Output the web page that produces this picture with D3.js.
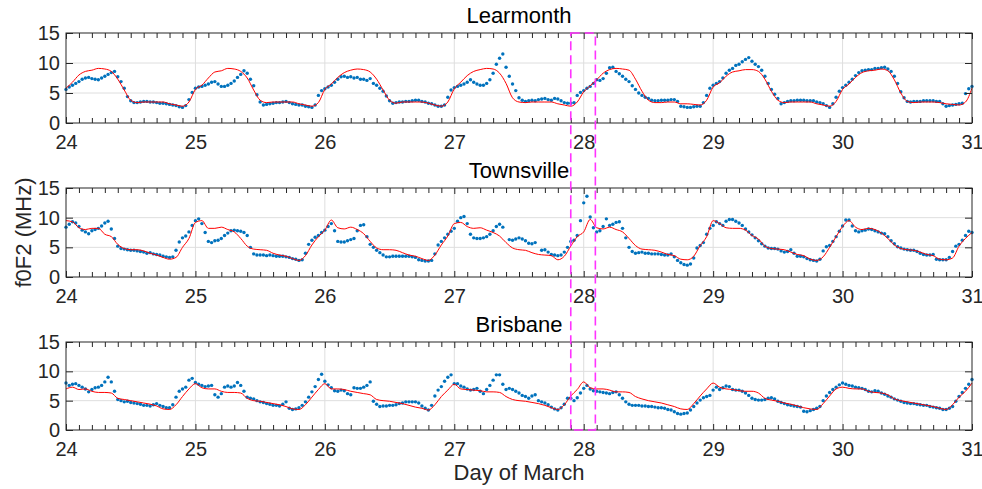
<!DOCTYPE html>
<html>
<head>
<meta charset="utf-8">
<script src="https://cdn.jsdelivr.net/npm/d3@7"></script>
<style>
  body { margin: 0; background: #fff; }
  svg { display: block; font-family: "Liberation Sans", Arial, sans-serif; }
</style>
</head>
<body>
<svg width="982" height="489"></svg>
<script>
// station names, axis ticks
const stations = ['Learmonth', 'Townsville', 'Brisbane'];
const dayTicks = [24, 25, 26, 27, 28, 29, 30, 31];
const yTicks = [0, 5, 10, 15];
const eventWindow = [27.9, 28.09];

// observed f0F2 (MHz), one value every 0.025 day from 24.0 to 31.0
const obsStep = 0.025;
const learmonthObs = [
  5.6,6.0,6.3,6.6,6.9,7.3,7.5,7.6,7.4,7.3, 7.2,7.5,7.8,8.1,8.4,8.6,7.7,6.9,5.8,4.4, 3.7,3.4,3.4,3.5,3.6,3.6,3.5,3.5,3.4,3.3, 3.3,3.2,3.1,3.0,2.9,2.7,2.6,2.9,3.9,5.1,
  5.8,6.0,6.1,6.3,6.5,6.8,6.9,6.5,6.1,6.1, 6.3,6.6,7.0,7.6,8.1,8.7,8.3,7.3,6.2,4.7, 3.5,3.0,3.1,3.2,3.3,3.4,3.4,3.5,3.6,3.4, 3.2,3.1,3.0,3.0,2.8,2.7,2.6,3.0,4.6,5.4,
  5.7,6.0,6.3,6.8,7.3,7.7,7.8,7.6,7.7,7.5, 7.6,7.3,7.3,7.1,7.4,6.6,6.3,5.8,5.3,4.5, 3.7,3.3,3.4,3.5,3.5,3.6,3.6,3.7,3.8,3.8, 3.6,3.5,3.3,3.2,3.0,2.8,2.8,3.0,4.3,5.5,
  5.9,6.1,6.3,6.5,6.8,7.2,6.8,6.5,6.3,6.3, 6.6,7.2,8.3,9.8,10.8,11.5,9.3,7.8,6.5,5.4, 4.2,3.8,3.6,3.7,3.8,3.7,3.9,4.0,4.1,3.9, 3.8,4.1,4.0,3.7,3.4,3.3,3.3,3.4,4.6,5.1,
  5.4,5.8,6.1,6.6,7.2,7.1,7.4,8.3,9.2,9.3, 8.6,8.2,7.8,7.3,6.9,6.2,5.6,5.0,4.6,4.3, 4.1,3.8,3.7,3.7,3.8,3.8,3.8,3.9,3.9,3.6, 2.8,2.7,2.6,2.6,2.7,2.8,2.8,3.4,4.6,5.8,
  6.3,6.6,6.9,7.5,8.3,8.8,9.1,9.6,9.8,10.2, 10.6,10.9,10.3,9.8,9.4,8.8,7.8,6.6,5.6,4.8, 4.1,3.2,3.4,3.6,3.7,3.7,3.8,3.8,3.8,3.7, 3.7,3.7,3.5,3.4,3.2,2.9,2.6,3.2,4.3,5.3,
  5.9,6.3,6.8,7.3,7.9,8.4,8.7,8.8,8.9,8.9, 9.1,9.1,9.2,9.3,9.0,8.6,7.8,6.6,5.2,4.2, 3.6,3.5,3.6,3.6,3.6,3.7,3.7,3.7,3.7,3.6, 3.6,3.2,2.8,2.9,3.0,3.1,3.2,3.3,4.9,5.7,
  6.1
];
const townsvilleObs = [
  8.4,8.9,9.3,9.1,8.5,7.9,7.6,7.3,7.8,8.0, 8.2,8.6,9.1,9.4,8.1,6.5,5.2,4.8,4.7,4.6, 4.5,4.5,4.4,4.3,4.2,4.0,4.1,3.9,3.8,3.7, 3.5,3.4,3.3,3.4,4.5,5.9,6.6,6.9,7.6,8.7,
  9.5,9.8,9.0,7.5,6.0,5.8,6.1,6.2,6.5,7.0, 7.4,7.8,7.9,7.8,7.7,7.5,7.0,5.0,3.9,3.7, 3.7,3.7,3.6,3.7,3.6,3.5,3.5,3.5,3.4,3.3, 3.1,3.0,2.8,2.9,4.0,5.5,6.2,6.7,7.0,7.5,
  7.9,8.5,9.0,7.8,6.0,5.9,5.9,6.1,6.3,6.5, 7.8,8.7,8.8,6.8,5.5,5.0,4.5,4.1,3.7,3.4, 3.4,3.5,3.5,3.5,3.5,3.5,3.5,3.4,3.3,2.9, 2.8,2.7,2.7,2.8,3.9,5.4,6.0,6.6,7.2,7.7,
  8.2,9.4,10.0,10.2,9.0,7.2,6.6,6.5,6.5,6.6, 6.8,7.2,7.8,8.5,8.9,8.4,null,6.3,6.2,6.4, 6.6,6.4,6.1,5.7,5.6,5.8,null,4.5,4.6,4.2, 3.8,3.7,3.6,3.7,4.2,5.0,6.0,6.2,7.0,9.5,
  12.5,13.6,10.1,8.3,7.6,7.8,8.5,9.8,8.7,8.9, 9.2,9.3,8.2,6.6,5.0,4.3,4.0,4.1,4.2,4.0, 4.0,3.9,3.9,3.9,3.8,3.7,3.7,3.9,3.4,2.8, 2.4,2.1,2.0,2.2,3.2,4.9,5.3,5.8,7.2,8.2,
  8.7,9.3,9.0,8.7,9.4,9.7,9.7,9.4,9.1,8.7, 8.1,7.6,7.1,6.6,6.1,5.6,5.2,4.9,4.8,4.8, 4.7,4.4,4.2,4.3,4.6,4.0,3.5,3.5,3.4,3.1, 2.9,2.8,2.7,3.0,4.4,5.1,5.3,6.0,6.8,7.7,
  8.6,9.6,9.6,8.6,7.8,7.6,7.8,7.9,8.1,8.0, 7.8,7.6,7.4,7.3,6.8,6.1,5.6,5.1,4.9,4.7, 4.6,4.5,4.5,4.3,4.0,3.8,3.7,3.7,3.8,3.0, 2.9,2.9,2.9,3.3,4.3,5.2,5.5,6.2,7.0,7.7,
  7.5
];
const brisbaneObs = [
  8.0,7.6,7.8,7.9,7.6,7.3,7.0,6.5,6.9,7.2, 7.3,7.6,8.2,9.0,8.2,6.6,5.2,5.0,4.8,4.9, 4.7,4.6,4.5,4.4,4.2,4.2,4.1,4.3,4.5,4.2, 4.0,3.8,3.8,4.3,5.6,6.6,7.0,7.3,8.5,8.8,
  8.1,7.8,7.6,7.4,7.5,7.6,6.0,5.6,6.2,7.3, 7.5,7.3,7.5,8.1,7.6,6.6,5.6,5.4,5.3,5.0, 4.8,4.7,4.5,4.4,4.2,4.2,4.1,4.4,4.8,3.7, 3.5,3.6,3.8,4.2,4.8,5.6,6.5,7.4,8.6,9.5,
  8.3,7.7,7.2,6.7,6.6,6.8,6.7,6.2,6.0,7.2, 7.1,7.1,7.3,7.6,8.2,4.9,4.4,4.0,4.1,4.1, 4.2,4.2,4.3,4.5,4.6,4.8,4.8,4.8,4.8,4.6, 4.1,3.7,3.4,4.2,5.8,6.8,7.4,8.3,9.0,9.4,
  7.9,7.9,7.5,7.3,7.0,6.8,6.9,7.1,6.6,6.2, 6.9,7.6,8.5,9.4,9.4,7.8,6.9,7.1,6.9,6.6, 6.3,5.9,5.7,5.4,5.8,6.0,5.0,4.8,4.6,4.3, 3.9,3.6,3.4,3.8,4.4,5.4,5.4,5.0,5.5,6.3,
  7.1,7.6,7.0,6.7,6.6,6.5,6.4,6.3,6.2,6.4, 6.5,6.0,5.4,4.8,4.4,4.2,4.2,4.2,4.1,4.1, 4.0,4.0,3.9,3.8,3.8,3.7,3.5,3.4,3.1,2.8, 2.7,2.8,2.9,3.4,4.0,4.6,5.1,5.5,5.7,5.9,
  6.8,7.3,6.9,7.2,7.5,7.4,6.9,6.8,6.8,6.6, 6.3,5.9,5.4,5.2,5.1,5.1,5.2,5.4,5.5,5.3, 4.9,4.7,4.5,4.3,4.2,4.1,4.0,3.9,3.2,3.1, 3.3,3.5,3.7,4.0,5.0,5.8,6.4,6.9,7.3,7.7,
  8.0,7.8,7.6,7.5,7.3,7.2,7.1,6.9,6.6,6.5, 6.7,6.6,6.3,6.1,5.8,5.6,5.3,5.1,4.9,4.7, 4.6,4.5,4.5,4.4,4.3,4.2,4.2,4.0,3.9,3.8, 3.7,3.5,3.5,3.7,4.0,4.9,5.7,6.4,7.1,7.8,
  8.6
];

// model f0F2 (MHz), one value every 0.05 day from 24.0 to 31.0
const modelStep = 0.05;
const learmonthModel = [
  5.8,6.8,8.0,8.6,8.8,9.1,9.0,8.6,7.3,5.5, 3.8,3.4,3.5,3.5,3.5,3.5,3.2,3.0,2.8,3.5,
  5.6,6.3,7.5,8.5,8.7,9.1,9.0,8.6,7.5,5.5, 3.8,3.4,3.5,3.5,3.5,3.5,3.2,3.0,2.8,3.4,
  5.6,6.5,7.6,8.4,8.8,9.0,8.9,8.5,7.3,5.5, 3.8,3.3,3.5,3.5,3.5,3.5,3.3,3.0,2.8,3.5,
  5.7,6.8,7.9,8.6,8.9,9.1,9.0,8.3,6.6,4.2, 3.5,3.4,3.5,3.5,3.5,3.5,3.2,3.0,2.8,3.5,
  5.2,6.2,7.2,8.3,8.9,9.1,9.0,8.8,7.3,5.3, 3.8,3.4,3.4,3.5,3.5,3.2,3.2,3.1,3.0,3.8,
  6.0,6.7,7.8,8.5,8.7,8.9,8.9,8.6,7.3,5.3, 3.8,3.4,3.5,3.5,3.5,3.5,3.2,3.0,2.8,3.6,
  5.6,6.5,7.6,8.4,8.7,8.8,9.0,8.7,7.2,5.0, 3.6,3.4,3.5,3.5,3.5,3.4,3.2,3.1,3.0,3.5,
  5.8
];
const townsvilleModel = [
  9.5,9.3,8.3,8.0,8.2,8.2,7.2,6.8,5.5,4.8, 4.6,4.6,4.4,4.0,3.7,3.3,3.0,3.3,5.0,6.5,
  9.2,9.5,8.2,8.2,8.4,8.0,7.6,6.5,5.2,4.7, 4.6,4.5,4.0,3.7,3.5,3.1,2.8,3.6,5.4,6.8,
  7.9,9.6,8.3,8.1,8.4,8.0,7.3,6.0,4.9,4.6, 4.6,4.5,4.1,3.7,3.5,3.1,2.8,3.7,5.4,6.9,
  9.0,9.2,8.5,8.2,8.3,7.9,7.5,6.9,5.8,4.9, 4.6,4.5,4.1,3.8,3.7,3.6,2.9,3.5,5.2,6.8,
  7.6,9.7,8.3,8.1,8.4,8.0,7.6,6.5,5.3,4.7, 4.6,4.5,4.2,3.8,3.6,3.0,2.9,3.5,5.3,6.8,
  9.5,9.0,8.3,8.2,8.2,7.9,7.0,6.4,5.2,4.8, 4.7,4.6,4.2,3.8,3.6,3.0,2.8,3.4,5.0,6.8,
  8.5,9.5,8.4,8.0,8.2,8.0,7.4,6.5,5.4,4.8, 4.6,4.5,4.2,3.8,3.6,3.0,2.9,3.2,5.2,6.5,
  7.5
];
const brisbaneModel = [
  7.0,7.3,6.9,7.0,6.6,6.4,6.4,6.3,5.4,5.2, 5.0,4.8,4.6,4.4,4.1,3.6,3.5,4.3,5.7,7.0,
  7.9,7.2,7.0,7.0,6.6,6.4,6.4,6.3,5.4,5.0, 4.9,4.7,4.5,4.3,4.0,3.6,3.5,4.3,5.6,6.9,
  7.9,7.0,7.0,6.9,6.6,6.4,6.2,6.0,5.2,5.0, 4.9,4.7,4.5,4.2,3.9,3.7,3.4,4.3,5.7,6.8,
  7.8,7.0,6.9,6.8,6.7,6.5,6.5,6.4,5.7,5.2, 5.0,4.9,4.7,4.5,4.2,3.8,3.5,4.3,5.8,6.9,
  8.2,7.2,7.0,7.0,6.8,6.5,6.5,6.4,5.7,5.3, 5.0,4.8,4.6,4.3,4.0,3.6,3.5,4.5,5.8,7.0,
  8.0,7.3,7.0,6.9,6.7,6.6,6.6,6.3,5.4,5.1, 4.9,4.6,4.4,4.1,3.8,3.6,3.5,4.5,5.8,7.0,
  7.3,7.1,7.0,7.0,6.6,6.4,6.3,6.0,5.3,5.0, 4.8,4.6,4.4,4.2,4.0,3.7,3.5,4.3,5.6,6.6,
  8.0
];

const obsSeries = [learmonthObs, townsvilleObs, brisbaneObs];
const modelSeries = [learmonthModel, townsvilleModel, brisbaneModel];

// layout
const left = 66, right = 972;
const panelBox = [[33, 123], [188, 277], [342, 430]];
const ink = '#262626';

const svg = d3.select('svg');
const x = d3.scaleLinear().domain([24, 31]).range([left, right]);
const minorTicks = d3.range(1, 70).filter(i => i % 10 !== 0).map(i => 24 + i / 10);

stations.forEach((name, p) => {
    const [top, bottom] = panelBox[p];
    const y = d3.scaleLinear().domain([0, 15]).range([bottom, top]);
    const g = svg.append('g');

    // grid
    g.selectAll('.vgrid').data(dayTicks.slice(1, -1)).enter().append('line')
        .attr('x1', d => x(d)).attr('x2', d => x(d))
        .attr('y1', top).attr('y2', bottom)
        .attr('stroke', '#dedede').attr('stroke-width', 1);
    g.selectAll('.hgrid').data([5, 10]).enter().append('line')
        .attr('x1', left).attr('x2', right)
        .attr('y1', d => y(d)).attr('y2', d => y(d))
        .attr('stroke', '#dedede').attr('stroke-width', 1);

    // observed dots
    const obs = obsSeries[p]
        .map((v, i) => ({ t: 24 + i * obsStep, v: v }))
        .filter(d => d.v !== null);
    g.selectAll('.obs').data(obs).enter().append('circle')
        .attr('cx', d => x(d.t))
        .attr('cy', d => y(d.v))
        .attr('r', 1.7)
        .attr('fill', '#0072BD');

    // model line
    const model = modelSeries[p].map((v, i) => ({ t: 24 + i * modelStep, v: v }));
    g.append('path')
        .datum(model)
        .attr('fill', 'none')
        .attr('stroke', '#ff0000')
        .attr('stroke-width', 1)
        .attr('d', d3.line().x(d => x(d.t)).y(d => y(d.v)).curve(d3.curveMonotoneX));

    // axes
    g.append('g').attr('transform', `translate(0,${bottom})`)
        .call(d3.axisBottom(x).tickValues(dayTicks).tickFormat(d3.format('d'))
            .tickSizeInner(-6).tickSizeOuter(0).tickPadding(12));
    g.append('g').attr('transform', `translate(0,${bottom})`)
        .call(d3.axisBottom(x).tickValues(minorTicks).tickFormat('').tickSizeInner(-5).tickSizeOuter(0));
    g.append('g').attr('transform', `translate(0,${top})`)
        .call(d3.axisTop(x).tickValues(dayTicks).tickFormat('').tickSizeInner(-6).tickSizeOuter(0));
    g.append('g').attr('transform', `translate(0,${top})`)
        .call(d3.axisTop(x).tickValues(minorTicks).tickFormat('').tickSizeInner(-5).tickSizeOuter(0));
    g.append('g').attr('transform', `translate(${left},0)`)
        .call(d3.axisLeft(y).tickValues(yTicks).tickSizeInner(-7).tickSizeOuter(0).tickPadding(6));
    g.append('g').attr('transform', `translate(${right},0)`)
        .call(d3.axisRight(y).tickValues(yTicks).tickFormat('').tickSizeInner(-7).tickSizeOuter(0));

    g.selectAll('.domain').remove();
    g.selectAll('.tick line').attr('stroke', ink);
    g.selectAll('.tick text').attr('fill', ink).style('font-size', '20px')
        .style('font-family', '"Liberation Sans", Arial, sans-serif');

    g.append('rect')
        .attr('x', left).attr('y', top)
        .attr('width', right - left).attr('height', bottom - top)
        .attr('fill', 'none').attr('stroke', ink).attr('stroke-width', 1);

    // title
    g.append('text')
        .attr('x', (left + right) / 2).attr('y', top - 10)
        .attr('text-anchor', 'middle')
        .attr('fill', '#000')
        .style('font-size', '22px')
        .text(name);
});

// y label
svg.append('text')
    .attr('transform', `translate(31,${(panelBox[1][0] + panelBox[1][1]) / 2}) rotate(-90)`)
    .attr('text-anchor', 'middle')
    .attr('fill', ink)
    .style('font-size', '22px')
    .text('f0F2 (MHz)');

// x label
svg.append('text')
    .attr('x', (left + right) / 2).attr('y', 480)
    .attr('text-anchor', 'middle')
    .attr('fill', ink)
    .style('font-size', '22px')
    .text('Day of March');

// event window marker spanning all panels
svg.append('rect')
    .attr('x', x(eventWindow[0])).attr('y', panelBox[0][0])
    .attr('width', x(eventWindow[1]) - x(eventWindow[0]))
    .attr('height', panelBox[2][1] - panelBox[0][0])
    .attr('fill', 'none')
    .attr('stroke', '#ff33ff')
    .attr('stroke-width', 1.6)
    .attr('stroke-dasharray', '9,5');
</script>
</body>
</html>
